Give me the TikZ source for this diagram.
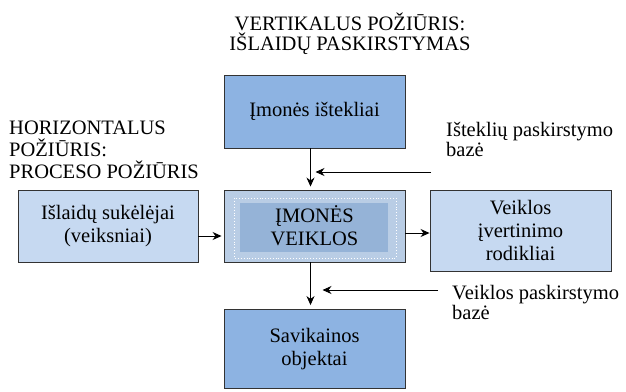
\documentclass[tikz,border=0pt]{standalone}
\usepackage{fontspec}
\setmainfont{Liberation Serif}
\usetikzlibrary{arrows.meta}
\definecolor{darkbox}{HTML}{8DB3E2}
\definecolor{lightbox}{HTML}{C6D9F1}
\definecolor{coreout}{HTML}{B9CDE5}
\definecolor{corein}{HTML}{95B3D7}
\begin{document}
\begin{tikzpicture}[x=1pt,y=-1pt,
    box/.style={draw=black!80,line width=0.9pt,align=center,inner sep=0pt,
      font=\fontsize{20.5}{23}\selectfont},
    lbl/.style={align=left,inner sep=0pt,font=\fontsize{20.5}{20}\selectfont},
    arr/.style={-{Stealth[length=9pt,width=8pt]},line width=0.9pt}]
  \useasboundingbox (0,0) rectangle (626,391);
  % titles
  \node[lbl,align=center] (vtitle) at (350,34) {VERTIKALUS POŽIŪRIS:\\IŠLAIDŲ PASKIRSTYMAS};
  \node[lbl,anchor=west,font=\fontsize{20.5}{22}\selectfont] (htitle) at (9,150) {HORIZONTALUS\\POŽIŪRIS:\\PROCESO POŽIŪRIS};
  % boxes
  \node[box,fill=darkbox,minimum width=181pt,minimum height=73pt] (res) at (314.5,111.5) {Įmonės ištekliai};
  \node[box,fill=coreout,minimum width=181pt,minimum height=72pt] (core) at (314.5,226) {};
  \fill[corein] (240,203) rectangle (388,252);
  \draw[white,dotted,line width=0.9pt] (234,198) rectangle (396,258);
  \node[box,draw=none] (corelbl) at (core.center) {ĮMONĖS\\VEIKLOS};
  \node[box,fill=lightbox,minimum width=180pt,minimum height=72pt] (drv) at (108,226) {Išlaidų sukėlėjai\\(veiksniai)};
  \node[box,fill=lightbox,minimum width=181pt,minimum height=81pt] (kpi) at (520.5,230.5) {Veiklos\\įvertinimo\\rodikliai};
  \node[box,fill=darkbox,minimum width=181pt,minimum height=79pt] (obj) at (314.5,349) {Savikainos\\objektai};
  % allocation bases
  \node[lbl,anchor=north west] (resbase) at (446,122) {Išteklių paskirstymo\\bazė};
  \node[lbl,anchor=north west] (actbase) at (452,285) {Veiklos paskirstymo\\bazė};
  \coordinate (b1) at (431,172);
  \coordinate (b2) at (438,290);
  % arrows
  \draw[arr] ([xshift=-4pt]res.south) -- ([xshift=-4pt,yshift=3pt]core.north);
  \draw[arr] (b1) -- ([xshift=1pt]b1 -| res.south);
  \draw[arr] ([yshift=-10pt]drv.east) -- ([yshift=-10pt,xshift=-2pt]core.west);
  \draw[arr] ([yshift=-7pt]core.east) -- ([yshift=-7pt]core.east -| kpi.west);
  \draw[arr] ([xshift=-4pt]core.south) -- ([xshift=-4pt,yshift=4pt]obj.north);
  \draw[arr] (b2) -- ([xshift=8pt]b2 -| obj.north);
\end{tikzpicture}
\end{document}
